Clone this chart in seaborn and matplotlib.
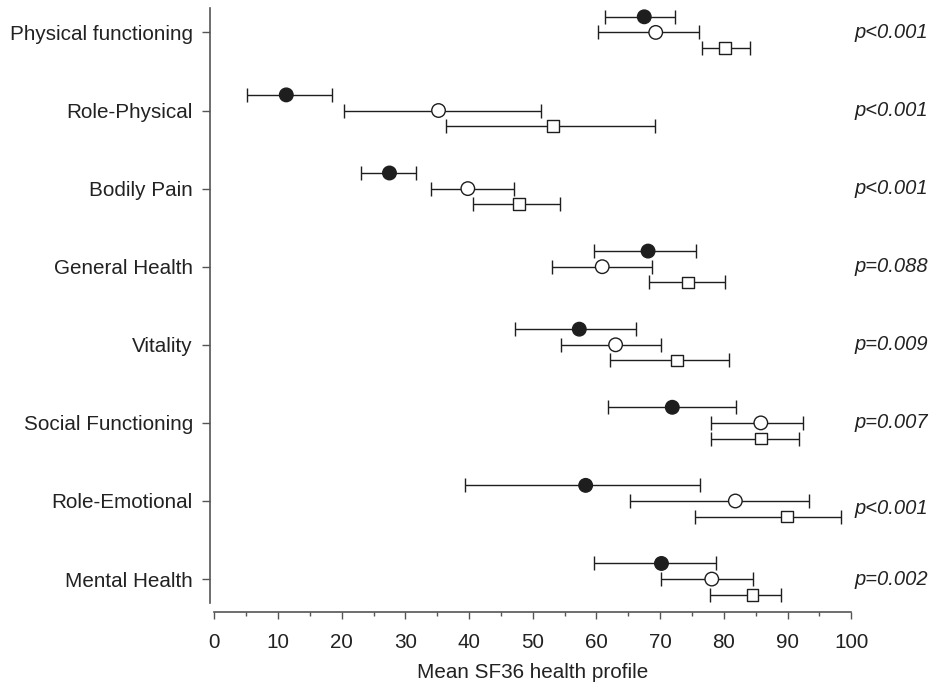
import numpy as np
import pandas as pd
import matplotlib
matplotlib.use("Agg")
import matplotlib.pyplot as plt
from matplotlib.ticker import MultipleLocator
import seaborn as sns

# SF36 domains, top to bottom
categories = ["Physical functioning", "Role-Physical", "Bodily Pain", "General Health",
              "Vitality", "Social Functioning", "Role-Emotional", "Mental Health"]

# group 1 (filled circle)
g1_mean = [67.5, 11.3, 27.5, 68.1, 57.3, 71.9, 58.3, 70.2]
g1_lo = [61.4, 5.2, 23.0, 59.6, 47.2, 61.8, 39.3, 59.6]
g1_hi = [72.4, 18.4, 31.7, 75.7, 66.2, 81.9, 76.2, 78.8]

# group 2 (open circle)
g2_mean = [69.3, 35.2, 39.8, 60.9, 63.0, 85.8, 81.8, 78.1]
g2_lo = [60.2, 20.4, 34.0, 53.0, 54.5, 78.0, 65.2, 70.2]
g2_hi = [76.1, 51.3, 47.0, 68.7, 70.2, 92.5, 93.3, 84.5]

# group 3 (open square)
g3_mean = [80.2, 53.2, 47.8, 74.4, 72.6, 85.8, 89.9, 84.5]
g3_lo = [76.6, 36.3, 40.6, 68.3, 62.2, 78.0, 75.4, 77.8]
g3_hi = [84.1, 69.2, 54.3, 80.2, 80.8, 91.8, 98.4, 88.9]

p_values = ["p<0.001", "p<0.001", "p<0.001", "p=0.088",
            "p=0.009", "p=0.007", "p<0.001", "p=0.002"]

sns.set_theme(style="ticks")
plt.rcParams["font.family"] = ["Liberation Sans", "DejaVu Sans"]

ink = "#1e1e1e"
groups = {"g1": (g1_mean, g1_lo, g1_hi, -0.2),
          "g2": (g2_mean, g2_lo, g2_hi, 0.0),
          "g3": (g3_mean, g3_lo, g3_hi, 0.2)}

rows = []
for g, (m, lo, hi, off) in groups.items():
    for i, cat in enumerate(categories):
        rows.append({"group": g, "cat": cat, "y": i + off, "mean": m[i], "lo": lo[i], "hi": hi[i]})
df = pd.DataFrame(rows)

fig = plt.figure(figsize=(9.33, 6.84), dpi=100)
ax = fig.add_axes([0.2297, 0.118, 0.6827, 0.870])

ax.errorbar(df["mean"], df["y"],
            xerr=[df["mean"] - df["lo"], df["hi"] - df["mean"]],
            fmt="none", ecolor=ink, elinewidth=1.0, capsize=5, capthick=1.0, zorder=1)

sns.scatterplot(data=df, x="mean", y="y", hue="group", style="group", size="group",
                palette={"g1": ink, "g2": "white", "g3": "white"},
                markers={"g1": "o", "g2": "o", "g3": "s"},
                sizes={"g1": 95, "g2": 95, "g3": 70},
                edgecolor=ink, linewidth=1.0, legend=False, zorder=3, ax=ax)

for i, p in enumerate(p_values):
    dy = 0.1 if categories[i] == "Role-Emotional" else 0.0
    ax.text(112, i + dy, p, ha="right", va="center", fontsize=14.5,
            style="italic", color="#222222", clip_on=False)

ax.set_xlim(0, 100)
ax.set_ylim(7.31, -0.31)
ax.set_yticks(range(len(categories)))
ax.set_yticklabels(categories)
ax.xaxis.set_major_locator(MultipleLocator(10))
ax.xaxis.set_minor_locator(MultipleLocator(5))
ax.set_xlabel("Mean SF36 health profile", fontsize=14.9, color="#222222", labelpad=8)
ax.set_ylabel("")

sns.despine(ax=ax)
ax.spines["left"].set_position(("outward", 3))
ax.spines["bottom"].set_position(("outward", 6.5))
for s in ("left", "bottom"):
    ax.spines[s].set_color("#555555")
    ax.spines[s].set_linewidth(1.2)

ax.tick_params(axis="both", which="major", labelsize=14.9, labelcolor="#222222",
               color="#555555", width=1.0, direction="out")
ax.tick_params(axis="x", which="major", length=5, pad=10)
ax.tick_params(axis="x", which="minor", length=3, width=1.0, color="#555555")
ax.tick_params(axis="y", which="major", length=6, pad=6.5)

fig.savefig("out.png", dpi=100)
